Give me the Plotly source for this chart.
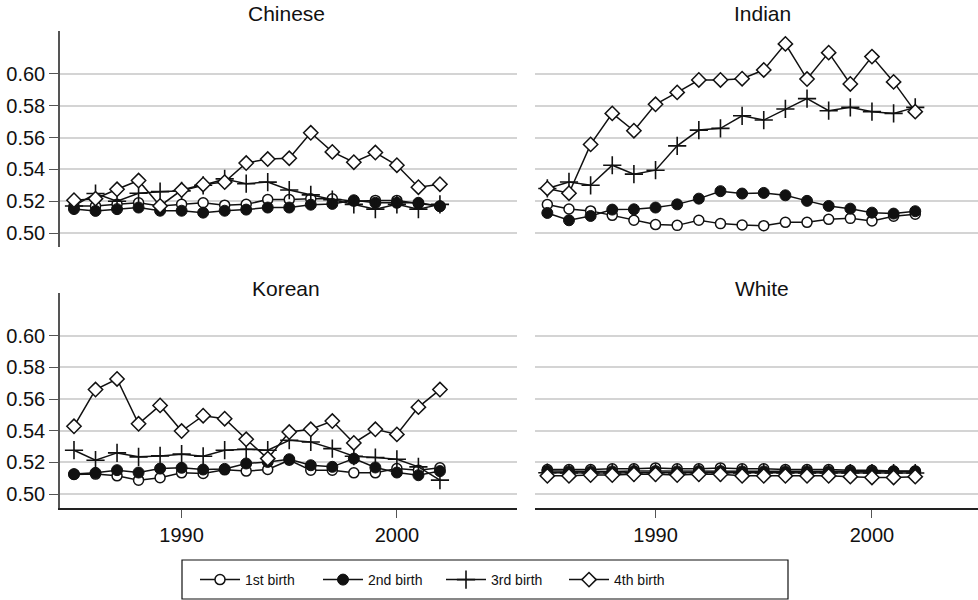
import plotly.graph_objects as go

years = list(range(1985, 2003))
series_names = ["1st birth", "2nd birth", "3rd birth", "4th birth"]
panel_titles = ["Chinese", "Indian", "Korean", "White"]
y_tick_vals = [0.50, 0.52, 0.54, 0.56, 0.58, 0.60]
y_tick_text = ["0.50", "0.52", "0.54", "0.56", "0.58", "0.60"]
x_tick_vals = [1990, 2000]
x_tick_text = ["1990", "2000"]

chinese_1st = [0.517, 0.517, 0.518, 0.519, 0.517, 0.518, 0.519, 0.5175, 0.518, 0.521, 0.521, 0.5215, 0.5215, 0.520, 0.5205, 0.5205, 0.5185, 0.517]
chinese_2nd = [0.5151, 0.5139, 0.515, 0.516, 0.514, 0.514, 0.5128, 0.514, 0.5147, 0.516, 0.516, 0.5178, 0.5183, 0.5206, 0.519, 0.519, 0.519, 0.5168]
chinese_3rd = [0.517, 0.5248, 0.520, 0.525, 0.526, 0.5265, 0.530, 0.534, 0.531, 0.532, 0.527, 0.524, 0.521, 0.518, 0.515, 0.518, 0.515, 0.518]
chinese_4th = [0.5206, 0.5216, 0.5275, 0.533, 0.517, 0.527, 0.5305, 0.532, 0.544, 0.5465, 0.547, 0.563, 0.551, 0.5445, 0.5506, 0.5426, 0.5288, 0.5307]

indian_1st = [0.5179, 0.5151, 0.5139, 0.5111, 0.508, 0.5053, 0.5048, 0.508, 0.5059, 0.505, 0.5046, 0.5067, 0.5067, 0.5086, 0.5092, 0.5076, 0.5105, 0.5118]
indian_2nd = [0.5126, 0.508, 0.5107, 0.5147, 0.5149, 0.516, 0.518, 0.5216, 0.5263, 0.5248, 0.5252, 0.5237, 0.5202, 0.517, 0.5153, 0.5128, 0.5122, 0.5137]
indian_3rd = [0.528, 0.5321, 0.530, 0.5426, 0.537, 0.5395, 0.5548, 0.5647, 0.5658, 0.5737, 0.571, 0.578, 0.5845, 0.5769, 0.579, 0.5763, 0.5752, 0.579]
indian_4th = [0.528, 0.525, 0.5557, 0.5752, 0.5643, 0.5809, 0.5884, 0.5962, 0.5962, 0.597, 0.6025, 0.6189, 0.5968, 0.6134, 0.5937, 0.6109, 0.595, 0.5763]

korean_1st = [0.5124, 0.5126, 0.5115, 0.5088, 0.5103, 0.5134, 0.513, 0.5153, 0.5145, 0.5155, 0.5214, 0.5151, 0.5151, 0.5134, 0.5134, 0.5161, 0.5151, 0.5166]
korean_2nd = [0.5126, 0.5134, 0.5151, 0.5136, 0.5161, 0.5166, 0.5155, 0.5159, 0.5193, 0.5203, 0.522, 0.5182, 0.5172, 0.5224, 0.5168, 0.5136, 0.5119, 0.5145]
korean_3rd = [0.5277, 0.5214, 0.526, 0.5235, 0.5241, 0.5252, 0.5239, 0.5277, 0.5283, 0.5277, 0.534, 0.5329, 0.5287, 0.5239, 0.5231, 0.522, 0.5172, 0.5088]
korean_4th = [0.5428, 0.566, 0.5727, 0.5444, 0.556, 0.5398, 0.5495, 0.5476, 0.5346, 0.5224, 0.5392, 0.5409, 0.5461, 0.5323, 0.5409, 0.5377, 0.5549, 0.566]

white_1st = [0.5155, 0.5155, 0.5155, 0.516, 0.516, 0.5165, 0.516, 0.516, 0.5165, 0.516, 0.516, 0.5155, 0.5155, 0.5155, 0.515, 0.515, 0.5145, 0.5145]
white_2nd = [0.5145, 0.5143, 0.5143, 0.5143, 0.5145, 0.5145, 0.5143, 0.5145, 0.5145, 0.5143, 0.5143, 0.5143, 0.5143, 0.5143, 0.5143, 0.5143, 0.5143, 0.5143]
white_3rd = [0.5135, 0.5133, 0.5133, 0.5133, 0.5135, 0.5135, 0.5133, 0.5135, 0.5135, 0.5133, 0.5133, 0.5133, 0.5133, 0.5133, 0.5133, 0.5133, 0.5133, 0.5133]
white_4th = [0.5115, 0.5115, 0.512, 0.512, 0.5125, 0.5125, 0.512, 0.5125, 0.5125, 0.5115, 0.5115, 0.5115, 0.5115, 0.5115, 0.511, 0.5105, 0.5105, 0.511]

panels = [
    [chinese_1st, chinese_2nd, chinese_3rd, chinese_4th],
    [indian_1st, indian_2nd, indian_3rd, indian_4th],
    [korean_1st, korean_2nd, korean_3rd, korean_4th],
    [white_1st, white_2nd, white_3rd, white_4th],
]

FONT = "Liberation Sans, Arial, Helvetica, sans-serif"
W, H = 978, 600
INK = "#111111"

marker_styles = [
    dict(symbol="circle", size=10, color="white", line=dict(color=INK, width=1.5)),
    dict(symbol="circle", size=11, color=INK, line=dict(color=INK, width=1)),
    dict(symbol="cross-thin", size=13, color=INK, line=dict(color=INK, width=1.6)),
    dict(symbol="diamond", size=11, color="white", line=dict(color=INK, width=1.5)),
]

fig = go.Figure()
for p, series in enumerate(panels):
    ax = "" if p == 0 else str(p + 1)
    for s, vals in enumerate(series):
        fig.add_trace(go.Scatter(
            x=years, y=vals, mode="lines+markers",
            name=series_names[s], legendgroup=series_names[s],
            showlegend=(p == 0),
            line=dict(color=INK, width=1.5),
            marker=marker_styles[s],
            xaxis="x" + ax, yaxis="y" + ax,
        ))

left_dom = [60 / W, 517 / W]
right_dom = [535 / W, 1.0]
top_dom = [1 - 247 / H, 1 - 31 / H]
bot_dom = [1 - 508 / H, 1 - 293 / H]
yr = [0.4912, 0.627]
left_xr = [1984.35, 2005.58]
right_xr = [1984.43, 2004.9]

def yaxis(dom, anchor, left):
    return dict(domain=dom, anchor=anchor, range=yr, tickvals=y_tick_vals, ticktext=y_tick_text,
                showgrid=True, gridcolor="#d4d4d4", gridwidth=1.5, zeroline=False,
                showline=left, linecolor="#555555", linewidth=1.5,
                ticks="outside" if left else "", ticklen=9, tickcolor="#555555", tickwidth=1.2,
                showticklabels=left, tickfont=dict(size=20, color=INK, family=FONT))

def xaxis(dom, anchor, rng, bottom):
    return dict(domain=dom, anchor=anchor, range=rng, tickvals=x_tick_vals, ticktext=x_tick_text,
                showgrid=False, zeroline=False,
                showline=bottom, linecolor="#222222", linewidth=1.5,
                ticks="outside" if bottom else "", ticklen=8, tickcolor="#555555", tickwidth=1.2,
                showticklabels=bottom, tickfont=dict(size=20, color=INK, family=FONT))

fig.update_layout(
    width=W, height=H, margin=dict(l=0, r=0, t=0, b=0),
    paper_bgcolor="white", plot_bgcolor="white",
    font=dict(family=FONT, color=INK),
    xaxis=xaxis(left_dom, "y", left_xr, False),
    yaxis=yaxis(top_dom, "x", True),
    xaxis2=xaxis(right_dom, "y2", right_xr, False),
    yaxis2=yaxis(top_dom, "x2", False),
    xaxis3=xaxis(left_dom, "y3", left_xr, True),
    yaxis3=yaxis(bot_dom, "x3", True),
    xaxis4=xaxis(right_dom, "y4", right_xr, True),
    yaxis4=yaxis(bot_dom, "x4", False),
    showlegend=True,
    legend=dict(orientation="h", x=195 / W, xanchor="left", y=1 - 580 / H, yanchor="middle",
                font=dict(size=14, family=FONT, color=INK), itemwidth=40,
                entrywidth=68, entrywidthmode="pixels", bgcolor="rgba(0,0,0,0)",
                borderwidth=0, tracegroupgap=0),
    shapes=[dict(type="rect", xref="paper", yref="paper",
                 x0=182 / W, x1=788 / W, y0=1 - 599 / H, y1=1 - 560 / H,
                 line=dict(color=INK, width=1.2), fillcolor="rgba(0,0,0,0)")],
)

title_pos = [(286, 13), (762, 13), (286, 288), (762, 288)]
for t, (px, py) in zip(panel_titles, title_pos):
    fig.add_annotation(text=t, x=px / W, y=1 - py / H, xref="paper", yref="paper",
                       showarrow=False, xanchor="center", yanchor="middle",
                       font=dict(size=21, family=FONT, color=INK))

fig.write_html("out.html", config={"displayModeBar": False},
               post_script="document.body.style.margin='0';document.body.style.overflow='hidden';")
